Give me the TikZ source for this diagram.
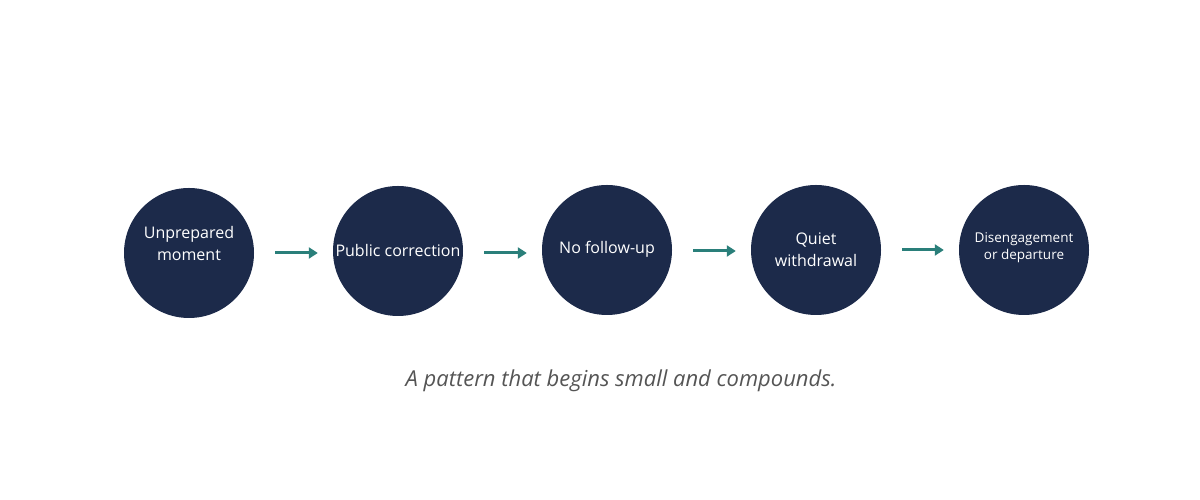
\documentclass[tikz,border=0pt]{standalone}
\usepackage{fontspec}
\setmainfont{Open Sans}
\usetikzlibrary{arrows.meta}
\definecolor{navy}{HTML}{1C2A4A}
\definecolor{teal2}{HTML}{2A7F7A}
\definecolor{capgray}{HTML}{555555}
\begin{document}
\begin{tikzpicture}[x=1pt,y=1pt,
  stage/.style={circle,fill=navy,draw=none,minimum size=130pt,inner sep=0pt},
  stagetext/.style={text=white,align=center,font=\fontsize{16}{22}\selectfont},
  smalltext/.style={text=white,align=center,font=\fontsize{13.5}{17}\selectfont},
  flow/.style={draw=teal2,line width=3pt,-{Triangle[length=9pt,width=11pt]},shorten <=21pt,shorten >=15pt}]
\useasboundingbox (0,0) rectangle (1200,500);
\fill[white] (0,0) rectangle (1200,500);
\node[stage] (c1) at (189,247) {};
\node[stage] (c2) at (398,249) {};
\node[stage] (c3) at (607,250) {};
\node[stage] (c4) at (816,250) {};
\node[stage] (c5) at (1024,250) {};
\node[stagetext] (t1) at (189,256) {Unprepared\\moment};
\node[stagetext] (t2) at (398,249) {Public correction};
\node[stagetext] (t3) at (607,251) {No follow-up};
\node[stagetext] (t4) at (816,250) {Quiet\\withdrawal};
\node[smalltext] (t5) at (1024,252) {Disengagement\\or departure};
\draw[flow] (c1.east |- 0,247) -- (c2.west |- 0,247);
\draw[flow] (c2.east |- 0,247) -- (c3.west |- 0,247);
\draw[flow] (c3.east |- 0,249) -- (c4.west |- 0,249);
\draw[flow] (c4.east |- 0,250) -- (c5.west |- 0,250);
\node[text=capgray,font=\itshape\fontsize{22}{26}\selectfont] (cap) at (621,119) {A pattern that begins small and compounds.};
\end{tikzpicture}
\end{document}
